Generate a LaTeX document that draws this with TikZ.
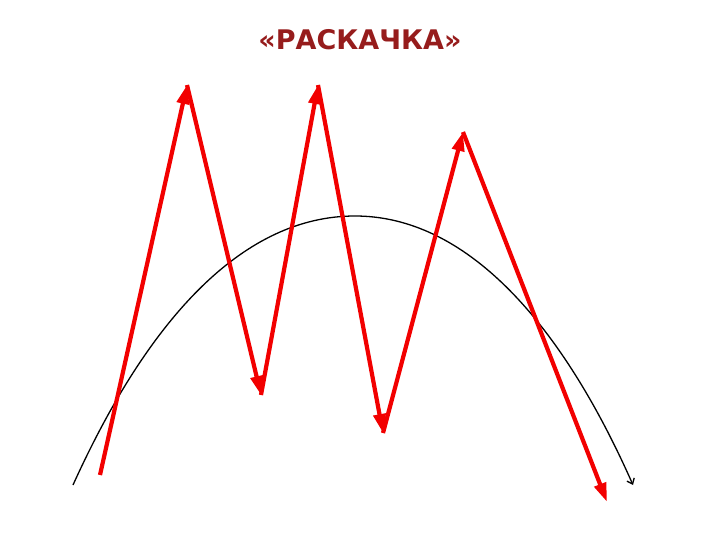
\documentclass[tikz,border=0pt]{standalone}
\usepackage{fontspec}
\setmainfont{DejaVu Sans}
\usetikzlibrary{arrows.meta}

\definecolor{titlered}{RGB}{150,28,28}

\tikzset{
  swing/.style={draw=red!95!black, line width=4.2pt, -{Triangle[length=19pt, width=12pt]}},
  curve/.style={draw=black, line width=1.3pt, -{Straight Barb[length=5pt, width=8pt]}},
  title/.style={font=\bfseries\fontsize{27}{32}\selectfont, text=titlered}
}

\begin{document}
\begin{tikzpicture}[x=1pt, y=-1pt]
\useasboundingbox (0,0) rectangle (720,540);

\node[title] (t) at (360,40) {«РАСКАЧКА»};

% Trend curve
\coordinate (c0) at (73,485);
\coordinate (ctop) at (355,216);
\coordinate (c1) at (633,485);
\draw[curve] (c0) .. controls (150,315) and (245,216) .. (ctop)
  .. controls (465,216) and (560,320) .. (c1);

% Zigzag points
\coordinate (p0) at (100,475);
\coordinate (p1) at (187,85);
\coordinate (p2) at (261,395);
\coordinate (p3) at (318,85);
\coordinate (p4) at (383,433);
\coordinate (p5) at (463,132);
\coordinate (p6) at (607,502);

% Arrows
\foreach \i in {0,1,2,3,4,5} {
	\pgfmathtruncatemacro{\j}{\i + 1}
	\path[swing] (p\i) -- (p\j);
}
\end{tikzpicture}
\end{document}
